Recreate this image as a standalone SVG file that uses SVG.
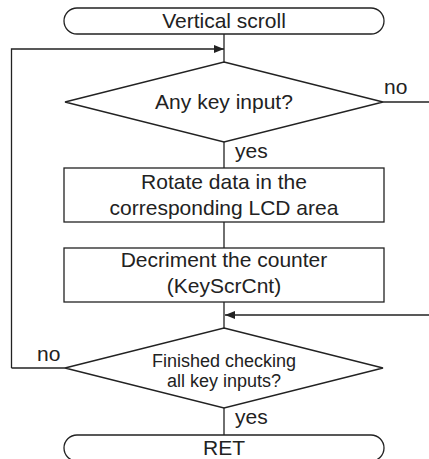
<svg xmlns="http://www.w3.org/2000/svg" width="429" height="459" viewBox="0 0 429 459">
<defs>
<style>
.s{fill:#fff;stroke:#222;stroke-width:1.3}
.l{fill:none;stroke:#222;stroke-width:1.3}
text{font-family:"Liberation Sans",Arial,sans-serif;font-size:21px;fill:#222;text-anchor:middle}
.sm{font-size:18px}
.lb{text-anchor:start}
</style>
<marker id="ah" viewBox="0 0 10 8" refX="10" refY="4" markerWidth="10" markerHeight="8" markerUnits="userSpaceOnUse" orient="auto">
<path d="M0,0L10,4L0,8z" fill="#222"/>
</marker>
</defs>
<g id="connectors">
<path class="l" d="M224,34V62"/>
<path class="l" d="M11.5,368V49H224" marker-end="url(#ah)"/>
<path class="l" d="M383,102H429"/>
<path class="l" d="M224,142V168"/>
<path class="l" d="M224,222V248"/>
<path class="l" d="M224,302V328"/>
<path class="l" d="M429,315H225" marker-end="url(#ah)"/>
<path class="l" d="M65,368H11.5"/>
<path class="l" d="M224,408V435"/>
<text class="lb" x="384" y="94">no</text>
<text class="lb" x="235" y="158">yes</text>
<text class="lb" x="37" y="361">no</text>
<text class="lb" x="235" y="424">yes</text>
</g>
<g id="start">
<rect class="s" x="64" y="8" width="320" height="26" rx="13"/>
<text x="224" y="28">Vertical scroll</text>
</g>
<g id="dec1">
<path class="s" d="M224,62L383,102L224,142L65,102z"/>
<text x="224" y="109">Any key input?</text>
</g>
<g id="rotate">
<rect class="s" x="64" y="168" width="320" height="54"/>
<text x="224" y="189">Rotate data in the</text>
<text x="224" y="215">corresponding LCD area</text>
</g>
<g id="decrement">
<rect class="s" x="64" y="248" width="320" height="54"/>
<text x="224" y="267">Decriment the counter</text>
<text x="224" y="293">(KeyScrCnt)</text>
</g>
<g id="dec2">
<path class="s" d="M224,328L383,368L224,408L65,368z"/>
<text class="sm" x="224" y="367">Finished checking</text>
<text class="sm" x="224" y="387">all key inputs?</text>
</g>
<g id="ret">
<rect class="s" x="64" y="435" width="320" height="26" rx="13"/>
<text x="224" y="455">RET</text>
</g>
</svg>
